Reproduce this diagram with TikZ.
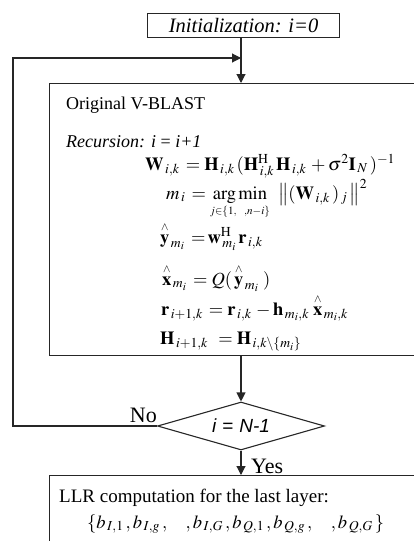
\documentclass[tikz,border=0pt]{standalone}
\usepackage{amsmath}
\usepackage{mathptmx}
\usepackage{fontspec}
\setmainfont{Liberation Serif}
\newfontfamily\sansf{Liberation Sans}
\usetikzlibrary{arrows.meta,shapes.geometric}
\tikzset{
  arr/.style={-{Triangle[length=9pt,width=9pt]}},
  line/.style={draw=black!85, line width=1.1pt},
  txt/.style={inner sep=0pt, font=\fontsize{18}{21}\selectfont},
  eq/.style={inner sep=0pt, anchor=base west, font=\fontsize{18.5}{21}\selectfont},
}
\newcommand{\hatv}[1]{\overset{\scriptscriptstyle\wedge}{#1}}
\newcommand{\sbs}[1]{_{\,#1}\,}
\begin{document}
\begin{tikzpicture}[x=1pt,y=-1pt]
\useasboundingbox (0,0) rectangle (414,541);
% init box
\node[line, minimum width=192pt, minimum height=24pt, inner sep=0pt, anchor=north west,
      font=\fontsize{20.5}{22}\selectfont\itshape] (init) at (147,13) {Initialization: i=0};
% main box
\node[line, minimum width=420pt, minimum height=272pt, anchor=north west] (main) at (49,83) {};
\node[txt, anchor=base west] (orig) at (66,109) {Original V-BLAST};
\node[txt, anchor=base west] (rec) at (66,147) {\itshape Recursion: i {\upshape=} i+1};
\node[eq] (e1) at (145,170) {$\mathbf{W}\sbs{i,k}=\mathbf{H}\sbs{i,k}(\mathbf{H}^{\mathrm{H}}\sbs{i,k}\mathbf{H}\sbs{i,k}+\sigma^{2}\mathbf{I}\sbs{N})^{-1}$};
\node[eq] (e2) at (166,199) {$m\sbs{i}=\operatorname*{arg\,min}\limits_{\scriptscriptstyle j\in\{1,\;\;\;,n-i\}}\;\;\bigl\|(\mathbf{W}\sbs{i,k})\sbs{j}\bigr\|^{2}$};
\node[eq] (e3) at (160,243) {$\hatv{\mathbf{y}}\sbs{m_i}={}\!\mathbf{w}^{\mathrm{H}}\sbs{m_i}\mathbf{r}\sbs{i,k}$};
\node[eq] (e4) at (162,285) {$\hatv{\mathbf{x}}\sbs{m_i}=\mathit{Q}(\,\hatv{\mathbf{y}}\sbs{m_i}\,)$};
\node[eq] (e5) at (161,315) {$\mathbf{r}\sbs{i+1,k}=\mathbf{r}\sbs{i,k}-\mathbf{h}\sbs{m_i,k}\,\hatv{\mathbf{x}}\sbs{m_i,k}$};
\node[eq] (e6) at (160,344) {$\mathbf{H}\sbs{i+1,k}\;=\mathbf{H}\sbs{i,k\backslash\{m_i\}}$};
% decision
\node[line, diamond, minimum width=167pt, minimum height=48pt, aspect=3.48, inner sep=0pt,
      font=\fontsize{19}{20}\selectfont\sansf\itshape] (dec) at (241,426) {i\hspace{6pt}=\hspace{6pt}N-1};
% LLR box
\node[line, minimum width=420pt, minimum height=90pt, anchor=north west] (llr) at (49,475) {};
\node[inner sep=0pt, anchor=base west, font=\fontsize{19}{22}\selectfont] (llrt) at (59,502) {LLR computation for the last layer:};
\node[eq] (bset) at (87,528) {$\{b\sbs{I,1},b\sbs{I,g},\;\;\;\;,b\sbs{I,G},b\sbs{Q,1},b\sbs{Q,g},\;\;\;\;,b\sbs{Q,G}\}$};
% labels
\node[inner sep=0pt, anchor=base east, font=\fontsize{22}{24}\selectfont] (no) at (157,422) {No};
\node[inner sep=0pt, anchor=base west, font=\fontsize{22}{24}\selectfont] (yes) at (251,473) {Yes};
% connectors
\coordinate (corner) at (13,58);
\coordinate (join) at (241,58);
\draw[line, arr] (init.south -| join) -- (join |- main.north);
\draw[line, arr] (dec.west) -| (corner) -- (join);
\draw[line, arr] (dec.north |- main.south) -- (dec.north);
\draw[line, arr] (dec.south) -- (dec.south |- llr.north);
\end{tikzpicture}
\end{document}
